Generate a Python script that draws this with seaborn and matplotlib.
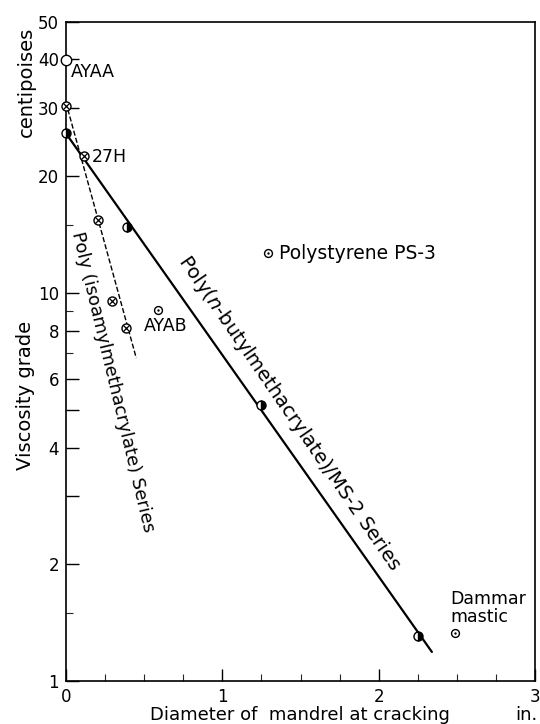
import numpy as np
import seaborn as sns
import matplotlib
matplotlib.use('Agg')
from matplotlib import pyplot as plt

# poly(n-butylmethacrylate)/MS-2 series (half filled circles)
butyl_x = [0.0, 0.39, 1.245, 2.25]
butyl_y = [25.8, 14.8, 5.15, 1.31]
butyl_fit_x = [0.0, 2.34]
butyl_fit_y = [25.8, 1.19]

# poly(isoamylmethacrylate) series (crossed circles)
isoamyl_x = [0.0, 0.115, 0.205, 0.296, 0.387]
isoamyl_y = [30.4, 22.5, 15.4, 9.55, 8.15]
isoamyl_fit_x = [0.0, 0.45]
isoamyl_fit_y = [31.0, 6.8]

# single samples (dotted circles)
single_names = ['AYAB', 'Polystyrene PS-3', 'Dammar mastic']
single_x = [0.59, 1.295, 2.49]
single_y = [9.05, 12.65, 1.33]

# AYAA (open circle)
ayaa_x = [0.0]
ayaa_y = [39.8]

y_major = [1, 2, 3, 4, 5, 6, 8, 10, 20, 30, 40, 50]
y_labels = ['1', '2', '', '4', '', '6', '8', '10', '20', '30', '40', '50']
y_minor = [1.5, 7, 9, 15]
x_major = [0, 1, 2, 3]
x_minor = [0.25, 0.5, 0.75, 1.25, 1.5, 1.75, 2.25, 2.5, 2.75]

sns.set_style('ticks')
plt.rcParams['font.family'] = ['DejaVu Sans']
plt.rcParams['mathtext.fontset'] = 'dejavusans'
plt.rcParams['text.color'] = 'black'

fig = plt.figure(figsize=(5.4, 7.24), dpi=100)
ax = fig.add_axes([0.122, 0.059, 0.869, 0.911])

sns.lineplot(x=butyl_fit_x, y=butyl_fit_y, ax=ax, color='black', linewidth=1.6)
sns.lineplot(x=isoamyl_fit_x, y=isoamyl_fit_y, ax=ax, color='black',
             linewidth=1.0, dashes=(9, 5), linestyle='--')

ms = 6.5
ax.plot(butyl_x, butyl_y, linestyle='', marker='o', markersize=ms,
        fillstyle='right', markerfacecolor='black', markerfacecoloralt='white',
        markeredgecolor='black', markeredgewidth=1.0, clip_on=False, zorder=4)
ax.plot(isoamyl_x, isoamyl_y, linestyle='', marker='o', markersize=ms,
        markerfacecolor='white', markeredgecolor='black', markeredgewidth=1.0,
        clip_on=False, zorder=4)
ax.plot(isoamyl_x, isoamyl_y, linestyle='', marker='x', markersize=ms * 0.7,
        markeredgecolor='black', markeredgewidth=0.9, clip_on=False, zorder=5)
sns.scatterplot(x=single_x, y=single_y, ax=ax, s=32, facecolor='white',
                edgecolor='black', linewidth=1.0, zorder=4)
sns.scatterplot(x=single_x, y=single_y, ax=ax, s=3, color='black',
                linewidth=0, zorder=5)
ax.plot(ayaa_x, ayaa_y, linestyle='', marker='o', markersize=ms + 1,
        markerfacecolor='white', markeredgecolor='black', markeredgewidth=1.0,
        clip_on=False, zorder=4)

ax.set_yscale('log')
ax.set_xlim(0, 3)
ax.set_ylim(1, 50)
ax.set_yticks(y_major)
ax.set_yticklabels(y_labels)
ax.set_yticks(y_minor, minor=True)
ax.set_xticks(x_major)
ax.set_xticklabels(['0', '1', '2', '3'])
ax.set_xticks(x_minor, minor=True)
ax.tick_params(which='major', direction='in', length=9, width=1.0,
               labelsize=12, pad=5, colors='black')
ax.tick_params(which='minor', direction='in', length=5, width=0.8,
               labelleft=False, labelbottom=False)
for s in ax.spines.values():
    s.set_linewidth(1.2)
    s.set_color('black')

fs = 12.5
ax.text(0.03, 37.0, 'AYAA', fontsize=fs, ha='left', va='center')
ax.text(0.165, 22.4, '27H', fontsize=fs, ha='left', va='center')
ax.text(0.5, 8.25, 'AYAB', fontsize=fs, ha='left', va='center')
ax.text(1.36, 12.65, 'Polystyrene PS-3', fontsize=13.5, ha='left', va='center')
ax.text(2.46, 1.54, 'Dammar\nmastic', fontsize=fs, ha='left', va='center',
        linespacing=1.0)

ax.text(0.30, 5.9, 'Poly (isoamylmethacrylate) Series', fontsize=13,
        rotation=-76.5, rotation_mode='anchor', ha='center', va='center')
ax.text(1.43, 4.9, 'Poly($\\mathit{n}$-butylmethacrylate)/MS-2 Series',
        fontsize=14, rotation=-55.5, rotation_mode='anchor',
        ha='center', va='center')

fig.text(0.048, 0.454, 'Viscosity grade', fontsize=14, rotation=90,
         ha='center', va='center')
fig.text(0.048, 0.887, 'centipoises', fontsize=14, rotation=90,
         ha='center', va='center')
fig.text(0.555, 0.006, 'Diameter of  mandrel at cracking', fontsize=13,
         ha='center', va='baseline')
fig.text(0.975, 0.006, 'in.', fontsize=13, ha='center', va='baseline')

fig.savefig('out.png', dpi=100)
